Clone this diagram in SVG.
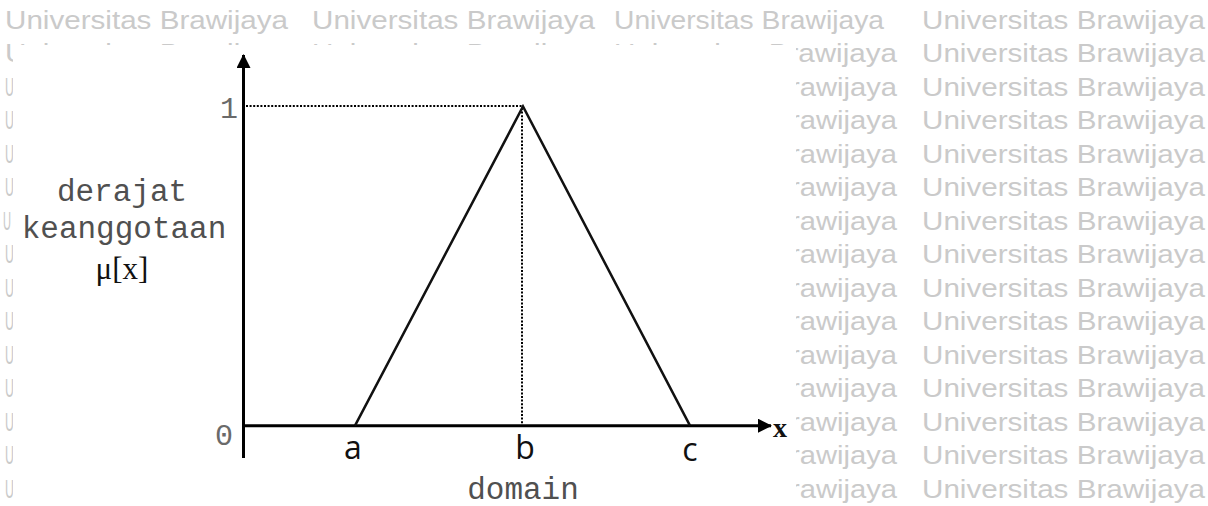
<svg xmlns="http://www.w3.org/2000/svg" width="1208" height="506" viewBox="0 0 1208 506">
<style>
.wm{font-family:"Liberation Sans",Arial,sans-serif;font-size:26px;fill:#cacaca}
.mono{font-family:"Liberation Mono","Courier New",monospace;font-size:31px;fill:#505050;text-anchor:middle}
.num{font-family:"Liberation Mono","Courier New",monospace;font-size:30px;fill:#6a6a6a;text-anchor:middle}
.ser{font-family:"Liberation Serif","Times New Roman",serif;fill:#111;text-anchor:middle}
.sans{font-family:"Open Sans","Noto Sans",sans-serif;font-size:32px;fill:#111;text-anchor:middle}
.ax{stroke:#000;stroke-width:3;fill:none}
.tri{stroke:#111;stroke-width:2.5;fill:none;stroke-linejoin:miter}
.dot{stroke:#000;stroke-width:2;stroke-dasharray:2 1.6;fill:none}
</style>
<defs>
<marker id="arr" viewBox="0 0 14 14" refX="13" refY="7" markerWidth="14" markerHeight="14" markerUnits="userSpaceOnUse" orient="auto">
<path d="M0,0 L14,7 L0,14 Z" fill="#000"/>
</marker>
</defs>
<rect width="1208" height="506" fill="#fff"/>
<g id="watermark">
<text class="wm" x="5" y="28.5" textLength="283" lengthAdjust="spacingAndGlyphs">Universitas Brawijaya</text>
<text class="wm" x="312" y="28.5" textLength="283" lengthAdjust="spacingAndGlyphs">Universitas Brawijaya</text>
<text class="wm" x="614" y="28.5" textLength="270" lengthAdjust="spacingAndGlyphs">Universitas Brawijaya</text>
<text class="wm" x="922" y="28.5" textLength="283" lengthAdjust="spacingAndGlyphs">Universitas Brawijaya</text>
<text class="wm" x="5" y="62" textLength="283" lengthAdjust="spacingAndGlyphs">Universitas Brawijaya</text>
<text class="wm" x="312" y="62" textLength="283" lengthAdjust="spacingAndGlyphs">Universitas Brawijaya</text>
<text class="wm" x="614" y="62" textLength="283" lengthAdjust="spacingAndGlyphs">Universitas Brawijaya</text>
<text class="wm" x="922" y="62" textLength="283" lengthAdjust="spacingAndGlyphs">Universitas Brawijaya</text>
<text class="wm" x="5" y="95.5" textLength="9" lengthAdjust="spacingAndGlyphs">U</text>
<text class="wm" x="790" y="95.5" textLength="107" lengthAdjust="spacingAndGlyphs">rawijaya</text>
<text class="wm" x="922" y="95.5" textLength="283" lengthAdjust="spacingAndGlyphs">Universitas Brawijaya</text>
<text class="wm" x="5" y="129" textLength="9" lengthAdjust="spacingAndGlyphs">U</text>
<text class="wm" x="790" y="129" textLength="107" lengthAdjust="spacingAndGlyphs">rawijaya</text>
<text class="wm" x="922" y="129" textLength="283" lengthAdjust="spacingAndGlyphs">Universitas Brawijaya</text>
<text class="wm" x="5" y="162.5" textLength="9" lengthAdjust="spacingAndGlyphs">U</text>
<text class="wm" x="790" y="162.5" textLength="107" lengthAdjust="spacingAndGlyphs">rawijaya</text>
<text class="wm" x="922" y="162.5" textLength="283" lengthAdjust="spacingAndGlyphs">Universitas Brawijaya</text>
<text class="wm" x="5" y="196" textLength="9" lengthAdjust="spacingAndGlyphs">U</text>
<text class="wm" x="790" y="196" textLength="107" lengthAdjust="spacingAndGlyphs">rawijaya</text>
<text class="wm" x="922" y="196" textLength="283" lengthAdjust="spacingAndGlyphs">Universitas Brawijaya</text>
<text class="wm" x="3" y="229.5" textLength="8" lengthAdjust="spacingAndGlyphs">U</text>
<text class="wm" x="790" y="229.5" textLength="107" lengthAdjust="spacingAndGlyphs">rawijaya</text>
<text class="wm" x="922" y="229.5" textLength="283" lengthAdjust="spacingAndGlyphs">Universitas Brawijaya</text>
<text class="wm" x="5" y="263" textLength="9" lengthAdjust="spacingAndGlyphs">U</text>
<text class="wm" x="790" y="263" textLength="107" lengthAdjust="spacingAndGlyphs">rawijaya</text>
<text class="wm" x="922" y="263" textLength="283" lengthAdjust="spacingAndGlyphs">Universitas Brawijaya</text>
<text class="wm" x="5" y="296.5" textLength="9" lengthAdjust="spacingAndGlyphs">U</text>
<text class="wm" x="790" y="296.5" textLength="107" lengthAdjust="spacingAndGlyphs">rawijaya</text>
<text class="wm" x="922" y="296.5" textLength="283" lengthAdjust="spacingAndGlyphs">Universitas Brawijaya</text>
<text class="wm" x="5" y="330" textLength="9" lengthAdjust="spacingAndGlyphs">U</text>
<text class="wm" x="790" y="330" textLength="107" lengthAdjust="spacingAndGlyphs">rawijaya</text>
<text class="wm" x="922" y="330" textLength="283" lengthAdjust="spacingAndGlyphs">Universitas Brawijaya</text>
<text class="wm" x="5" y="363.5" textLength="9" lengthAdjust="spacingAndGlyphs">U</text>
<text class="wm" x="790" y="363.5" textLength="107" lengthAdjust="spacingAndGlyphs">rawijaya</text>
<text class="wm" x="922" y="363.5" textLength="283" lengthAdjust="spacingAndGlyphs">Universitas Brawijaya</text>
<text class="wm" x="5" y="397" textLength="9" lengthAdjust="spacingAndGlyphs">U</text>
<text class="wm" x="790" y="397" textLength="107" lengthAdjust="spacingAndGlyphs">rawijaya</text>
<text class="wm" x="922" y="397" textLength="283" lengthAdjust="spacingAndGlyphs">Universitas Brawijaya</text>
<text class="wm" x="5" y="430.5" textLength="9" lengthAdjust="spacingAndGlyphs">U</text>
<text class="wm" x="790" y="430.5" textLength="107" lengthAdjust="spacingAndGlyphs">rawijaya</text>
<text class="wm" x="922" y="430.5" textLength="283" lengthAdjust="spacingAndGlyphs">Universitas Brawijaya</text>
<text class="wm" x="5" y="464" textLength="9" lengthAdjust="spacingAndGlyphs">U</text>
<text class="wm" x="790" y="464" textLength="107" lengthAdjust="spacingAndGlyphs">rawijaya</text>
<text class="wm" x="922" y="464" textLength="283" lengthAdjust="spacingAndGlyphs">Universitas Brawijaya</text>
<text class="wm" x="5" y="497.5" textLength="9" lengthAdjust="spacingAndGlyphs">U</text>
<text class="wm" x="790" y="497.5" textLength="107" lengthAdjust="spacingAndGlyphs">rawijaya</text>
<text class="wm" x="922" y="497.5" textLength="283" lengthAdjust="spacingAndGlyphs">Universitas Brawijaya</text>
</g>
<rect id="panel" x="13" y="45" width="783" height="461" fill="#fff"/>
<g id="connectors">
<line class="ax" x1="243.5" y1="458" x2="243.5" y2="55" marker-end="url(#arr)"/>
<line class="ax" x1="243.5" y1="425.7" x2="771" y2="425.7" marker-end="url(#arr)"/>
<line class="dot" x1="246" y1="106" x2="522" y2="106"/>
<line class="dot" x1="522" y1="108" x2="522" y2="424"/>
</g>
<g id="membership">
<polyline class="tri" points="355,425.7 523,106.5 690,425.7"/>
</g>
<g id="ylabels">
<text class="num" x="229" y="118">1</text>
<text class="num" x="224" y="445">0</text>
<text class="mono" x="122" y="201">derajat</text>
<text class="mono" x="124" y="238">keanggotaan</text>
<text class="ser" x="122" y="279" font-size="31">μ[x]</text>
</g>
<g id="xlabels">
<text class="sans" x="353" y="459">a</text>
<text class="sans" x="525" y="459">b</text>
<text class="sans" x="690" y="461">c</text>
<text class="ser" x="780" y="437" font-size="28" font-weight="bold">x</text>
<text class="mono" x="523" y="499">domain</text>
</g>
</svg>
